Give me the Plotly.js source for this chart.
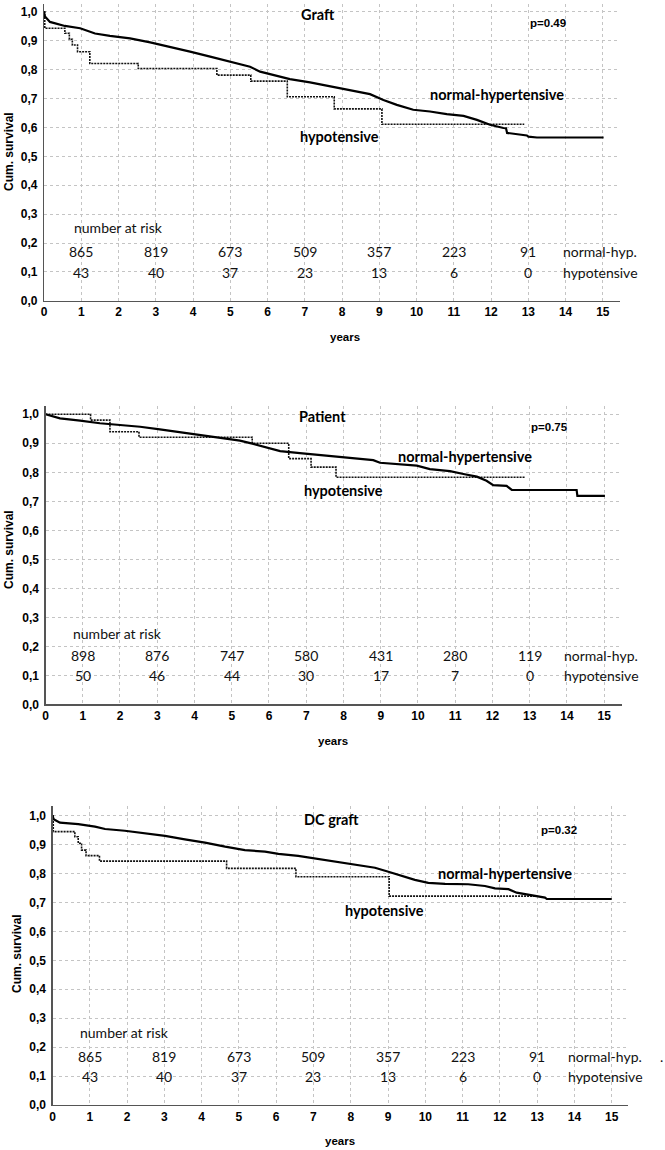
<!DOCTYPE html>
<html>
<head>
<meta charset="utf-8">
<script src="https://cdn.plot.ly/plotly-3.0.1.min.js"></script>
<style>html,body{margin:0;padding:0;background:#fff;}#chart{width:665px;height:1150px;}</style>
</head>
<body>
<div id="chart"></div>
<script>
// ---------- tick labels ----------
const xTickVals = [0,1,2,3,4,5,6,7,8,9,10,11,12,13,14,15];
const xTickText = ["0","1","2","3","4","5","6","7","8","9","10","11","12","13","14","15"];
const yTickVals = [0,0.1,0.2,0.3,0.4,0.5,0.6,0.7,0.8,0.9,1.0];
const yTickText = ["0,0","0,1","0,2","0,3","0,4","0,5","0,6","0,7","0,8","0,9","1,0"];

// ---------- panel titles / labels ----------
const panelTitles = ["Graft", "Patient", "DC graft"];
const pValues = ["p=0.49", "p=0.75", "p=0.32"];
const groupNames = ["normal-hypertensive", "hypotensive"];
const rowNames = ["normal-hyp.", "hypotensive"];
const riskHeader = "number at risk";
const yTitle = "Cum. survival";
const xTitle = "years";

// ---------- number at risk ----------
const riskYears = [1,3,5,7,9,11,13];
const graftRiskNormal = [865,819,673,509,357,223,91];
const graftRiskHypo = [43,40,37,23,13,6,0];
const patientRiskNormal = [898,876,747,580,431,280,119];
const patientRiskHypo = [50,46,44,30,17,7,0];
const dcRiskNormal = [865,819,673,509,357,223,91];
const dcRiskHypo = [43,40,37,23,13,6,0];

// ---------- survival curves ----------
// Graft
const graftNormX = [0,0.02,0.16,0.56,0.97,1.37,1.77,2.31,2.85,3.38,3.92,4.46,4.99,5.53,5.80,6.15,6.60,7.14,7.68,8.21,8.75,9.11,9.47,9.91,10.36,10.81,11.26,11.62,11.97,12.33,12.40,12.43,12.96,13.0,13.23,15.02];
const graftNormY = [1.0,0.985,0.965,0.951,0.943,0.925,0.917,0.908,0.894,0.879,0.862,0.845,0.827,0.810,0.793,0.781,0.767,0.756,0.743,0.729,0.715,0.695,0.678,0.661,0.655,0.646,0.640,0.626,0.609,0.598,0.597,0.581,0.572,0.568,0.565,0.565];
const graftHypoX = [0,0.02,0.56,0.68,0.76,0.90,1.23,2.53,4.64,5.55,6.53,7.79,9.07,12.89];
const graftHypoY = [1.0,0.943,0.926,0.905,0.885,0.862,0.821,0.804,0.781,0.760,0.706,0.664,0.611,0.611];
// Patient
const patNormX = [0,0.39,0.93,1.46,2.0,2.54,3.07,3.61,4.15,4.68,5.22,5.58,5.94,6.30,6.83,7.37,7.91,8.80,8.98,9.43,9.97,10.32,10.86,11.22,11.58,11.84,12.02,12.38,12.45,12.52,14.26,14.28,15.02];
const patNormY = [1.0,0.986,0.978,0.969,0.963,0.957,0.948,0.938,0.928,0.919,0.909,0.898,0.885,0.873,0.866,0.859,0.852,0.842,0.833,0.828,0.823,0.811,0.804,0.794,0.785,0.771,0.756,0.753,0.745,0.739,0.739,0.719,0.719];
const patHypoX = [0,1.21,1.73,2.51,5.55,6.53,7.13,7.80,12.87];
const patHypoY = [1.0,0.980,0.940,0.921,0.900,0.847,0.818,0.783,0.783];
// DC graft
const dcNormX = [0,0.03,0.20,0.69,1.14,1.41,1.94,2.48,3.02,3.55,4.09,4.63,5.16,5.70,6.06,6.59,7.13,7.58,8.11,8.65,9.01,9.37,9.72,10.08,10.53,11.15,11.60,11.87,12.23,12.45,12.85,13.21,13.26,15.0];
const dcNormY = [1.0,0.988,0.976,0.971,0.962,0.954,0.948,0.939,0.930,0.918,0.907,0.893,0.881,0.876,0.868,0.861,0.850,0.841,0.830,0.820,0.806,0.792,0.778,0.768,0.764,0.763,0.757,0.749,0.746,0.734,0.726,0.717,0.712,0.712];
const dcHypoX = [0,0.02,0.60,0.69,0.78,0.90,1.26,4.67,6.53,9.03,12.98];
const dcHypoY = [1.0,0.945,0.927,0.905,0.881,0.862,0.843,0.818,0.789,0.722,0.722];

// ---------- layout geometry ----------
const W = 665, H = 1150;
const panels = [
  {xa:'x', ya:'y', xDom:[44,620], yDom:[4,300.8], xMax:15.46, yMax:1.027,
   normX:graftNormX, normY:graftNormY, hypoX:graftHypoX, hypoY:graftHypoY,
   riskN:graftRiskNormal, riskH:graftRiskHypo,
   titlePos:[7.36,0.992], pPos:[13.53,0.962], normPos:[12.16,0.715], hypoPos:[7.92,0.570],
   headPos:[1.99,0.252], rowY:[0.170,0.097], rowLabelX:13.87,
   yTitlePx:[9,152], xTitlePx:[345,337]},
  {xa:'x2', ya:'y2', xDom:[45.5,621.7], yDom:[406,704.3], xMax:15.47, yMax:1.0286,
   normX:patNormX, normY:patNormY, hypoX:patHypoX, hypoY:patHypoY,
   riskN:patientRiskNormal, riskH:patientRiskHypo,
   titlePos:[7.45,0.994], pPos:[13.53,0.957], normPos:[11.27,0.856], hypoPos:[8.01,0.737],
   headPos:[1.92,0.245], rowY:[0.170,0.099], rowLabelX:13.87,
   yTitlePx:[9,550], xTitlePx:[333,741]},
  {xa:'x3', ya:'y3', xDom:[52.5,628], yDom:[806,1105], xMax:15.437, yMax:1.0335,
   normX:dcNormX, normY:dcNormY, hypoX:dcHypoX, hypoY:dcHypoY,
   riskN:dcRiskNormal, riskH:dcRiskHypo,
   titlePos:[7.49,0.988], pPos:[13.59,0.951], normPos:[12.15,0.801], hypoPos:[8.91,0.674],
   headPos:[1.92,0.250], rowY:[0.169,0.100], rowLabelX:13.77,
   yTitlePx:[17,954], xTitlePx:[340,1141]}
];

const traces = [];
const annotations = [];
const layout = {
  width: W, height: H,
  margin: {l:0, r:0, t:0, b:0, pad:0},
  paper_bgcolor: '#fff', plot_bgcolor: '#fff',
  showlegend: false,
  font: {family: 'Liberation Sans, Arial, sans-serif', color: '#000'},
  annotations: annotations
};

const boldSans = {family: 'Lato, Calibri, sans-serif', size: 14.5, color: '#000', weight: 700};
const regSans = {family: 'Lato, Calibri, sans-serif', size: 14, color: '#111'};
const arialBold = {family: 'Liberation Sans, Arial, sans-serif', size: 12, color: '#000', weight: 700};

panels.forEach((p, i) => {
  const sfx = i === 0 ? '' : String(i + 1);
  layout['xaxis' + sfx] = {
    domain: [p.xDom[0] / W, p.xDom[1] / W],
    anchor: 'y' + sfx,
    range: [0, p.xMax],
    tickvals: xTickVals, ticktext: xTickText,
    showline: true, linecolor: '#555', linewidth: 1.2,
    showgrid: true, gridcolor: '#c4c4c4', griddash: '3px,3px', gridwidth: 1,
    zeroline: false, ticks: '',
    tickfont: arialBold, fixedrange: true
  };
  layout['yaxis' + sfx] = {
    domain: [1 - p.yDom[1] / H, 1 - p.yDom[0] / H],
    anchor: 'x' + sfx,
    range: [0, p.yMax],
    tickvals: yTickVals, ticktext: yTickText,
    showline: true, linecolor: '#555', linewidth: 1.2,
    showgrid: true, gridcolor: '#c4c4c4', griddash: '3px,3px', gridwidth: 1,
    zeroline: false, ticks: '', ticklabelstandoff: 3,
    tickfont: arialBold, fixedrange: true
  };

  traces.push({
    type: 'scatter', mode: 'lines', x: p.hypoX, y: p.hypoY,
    xaxis: p.xa, yaxis: p.ya, name: groupNames[1],
    line: {color: '#111', width: 1.6, dash: '2px,1px', shape: 'hv'},
    hoverinfo: 'skip'
  });
  traces.push({
    type: 'scatter', mode: 'lines', x: p.normX, y: p.normY,
    xaxis: p.xa, yaxis: p.ya, name: groupNames[0],
    line: {color: '#000', width: 2.2, shape: 'linear'},
    hoverinfo: 'skip'
  });

  const ref = {xref: p.xa, yref: p.ya, showarrow: false};
  annotations.push(Object.assign({}, ref, {x: p.titlePos[0], y: p.titlePos[1], text: panelTitles[i], font: boldSans, xanchor: 'center', yanchor: 'middle'}));
  annotations.push(Object.assign({}, ref, {x: p.pPos[0], y: p.pPos[1], text: pValues[i], font: {family: 'Liberation Sans, Arial, sans-serif', size: 11.5, color: '#000', weight: 700}, xanchor: 'center', yanchor: 'middle'}));
  annotations.push(Object.assign({}, ref, {x: p.normPos[0], y: p.normPos[1], text: groupNames[0], font: boldSans, xanchor: 'center', yanchor: 'middle'}));
  annotations.push(Object.assign({}, ref, {x: p.hypoPos[0], y: p.hypoPos[1], text: groupNames[1], font: boldSans, xanchor: 'center', yanchor: 'middle'}));
  annotations.push(Object.assign({}, ref, {x: p.headPos[0], y: p.headPos[1], text: riskHeader, font: regSans, xanchor: 'center', yanchor: 'middle'}));
  riskYears.forEach((yr, k) => {
    annotations.push(Object.assign({}, ref, {x: yr, y: p.rowY[0], text: String(p.riskN[k]), font: regSans, xanchor: 'center', yanchor: 'middle', bgcolor: 'rgba(255,255,255,0)'}));
    annotations.push(Object.assign({}, ref, {x: yr, y: p.rowY[1], text: String(p.riskH[k]), font: regSans, xanchor: 'center', yanchor: 'middle'}));
  });
  annotations.push(Object.assign({}, ref, {x: p.rowLabelX, y: p.rowY[0], text: rowNames[0], font: regSans, xanchor: 'left', yanchor: 'middle'}));
  annotations.push(Object.assign({}, ref, {x: p.rowLabelX, y: p.rowY[1], text: rowNames[1], font: regSans, xanchor: 'left', yanchor: 'middle'}));

  annotations.push({xref: 'paper', yref: 'paper', showarrow: false,
    x: p.yTitlePx[0] / W, y: 1 - p.yTitlePx[1] / H, textangle: -90,
    text: yTitle, font: {family: 'Liberation Sans, Arial, sans-serif', size: 12, color: '#000', weight: 700},
    xanchor: 'center', yanchor: 'middle'});
  annotations.push({xref: 'paper', yref: 'paper', showarrow: false,
    x: p.xTitlePx[0] / W, y: 1 - p.xTitlePx[1] / H,
    text: xTitle, font: {family: 'Liberation Sans, Arial, sans-serif', size: 11.5, color: '#000', weight: 700},
    xanchor: 'center', yanchor: 'middle'});
});

// stray dot after the DC graft row label
annotations.push({xref: 'paper', yref: 'paper', showarrow: false,
  x: 661 / W, y: 1 - 1056 / H, text: '.', font: regSans, xanchor: 'center', yanchor: 'middle'});

Plotly.newPlot('chart', traces, layout, {staticPlot: true, displayModeBar: false});
</script>
</body>
</html>
